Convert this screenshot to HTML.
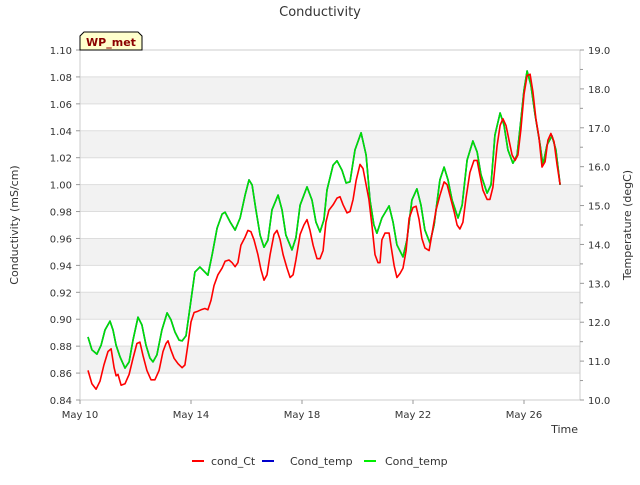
<!DOCTYPE html>
<html><head><meta charset="utf-8"><style>
body{margin:0;background:#fff;font-family:"Liberation Sans","DejaVu Sans",sans-serif}
svg text{font-family:"DejaVu Sans","Liberation Sans",sans-serif}
</style></head><body>
<svg id="chart" width="640" height="480" xmlns="http://www.w3.org/2000/svg">
<rect width="640" height="480" fill="#fff"/>
<text x="320" y="16" text-anchor="middle" font-size="13" fill="#333">Conductivity</text>
<g id="bands"></g>
<g id="grid"></g>
<rect x="80" y="50" width="500" height="350" fill="none" stroke="#ccc"/>
<g id="axes"></g>
<g id="series"></g>
<g>
<path d="M84,32 L138,32 L142,36 L142,50 L80,50 L80,36 Z" fill="#ffffcc" stroke="#000" stroke-width="1"/>
<text x="111" y="46" text-anchor="middle" font-size="11" font-weight="bold" fill="#8b0000">WP_met</text>
</g>
<text transform="translate(18,225) rotate(-90)" text-anchor="middle" font-size="11" fill="#333">Conductivity (mS/cm)</text>
<text transform="translate(631,225) rotate(-90)" text-anchor="middle" font-size="11" fill="#333">Temperature (degC)</text>
<text x="578" y="433" text-anchor="end" font-size="11" fill="#333">Time</text>
<g>
<line x1="192" y1="461" x2="204" y2="461" stroke="#f00" stroke-width="2"/>
<text x="211" y="465" font-size="11" fill="#333">cond_Ct</text>
<line x1="262" y1="461" x2="274" y2="461" stroke="#00c" stroke-width="2"/>
<text x="290" y="465" font-size="11" fill="#333">Cond_temp</text>
<line x1="364" y1="461" x2="376" y2="461" stroke="#0e0" stroke-width="2"/>
<text x="385" y="465" font-size="11" fill="#333">Cond_temp</text>
</g>
</svg>
<script>
const condDays=[0.29,0.43,0.58,0.72,0.86,1.01,1.12,1.23,1.30,1.37,1.48,1.62,1.77,1.91,2.05,2.16,2.27,2.41,2.56,2.70,2.85,2.99,3.10,3.17,3.28,3.39,3.53,3.68,3.78,3.89,4.00,4.11,4.25,4.36,4.50,4.61,4.72,4.83,4.97,5.12,5.23,5.37,5.48,5.59,5.69,5.80,5.95,6.05,6.16,6.27,6.41,6.52,6.63,6.74,6.85,6.99,7.10,7.21,7.32,7.46,7.57,7.68,7.78,7.93,8.07,8.18,8.29,8.40,8.54,8.65,8.76,8.86,8.97,9.12,9.26,9.37,9.48,9.62,9.73,9.84,9.95,10.09,10.20,10.31,10.41,10.52,10.63,10.74,10.81,10.88,10.99,11.14,11.21,11.32,11.42,11.53,11.64,11.75,11.86,12.00,12.11,12.22,12.32,12.43,12.58,12.68,12.83,12.97,13.12,13.23,13.33,13.48,13.59,13.69,13.80,13.91,14.05,14.20,14.31,14.41,14.52,14.67,14.77,14.88,15.03,15.14,15.24,15.35,15.46,15.57,15.68,15.78,15.89,16.00,16.11,16.22,16.32,16.43,16.54,16.65,16.76,16.86,16.97,17.08,17.19,17.30];
const condValues=[0.862,0.852,0.848,0.854,0.866,0.876,0.878,0.864,0.858,0.859,0.851,0.852,0.859,0.871,0.882,0.883,0.873,0.862,0.855,0.855,0.862,0.876,0.882,0.884,0.877,0.871,0.867,0.864,0.866,0.881,0.898,0.905,0.906,0.907,0.908,0.907,0.914,0.925,0.933,0.938,0.943,0.944,0.942,0.939,0.942,0.955,0.961,0.966,0.965,0.959,0.948,0.937,0.929,0.933,0.948,0.963,0.966,0.959,0.948,0.938,0.931,0.933,0.944,0.963,0.970,0.974,0.966,0.955,0.945,0.945,0.951,0.972,0.981,0.985,0.990,0.991,0.985,0.979,0.980,0.989,1.003,1.015,1.012,1.000,0.989,0.970,0.948,0.942,0.942,0.959,0.964,0.964,0.954,0.940,0.931,0.934,0.938,0.951,0.975,0.983,0.984,0.974,0.960,0.953,0.951,0.963,0.981,0.992,1.002,1.000,0.992,0.980,0.970,0.967,0.972,0.990,1.009,1.018,1.018,1.007,0.996,0.989,0.989,0.998,1.029,1.044,1.049,1.044,1.033,1.022,1.018,1.022,1.041,1.067,1.081,1.082,1.069,1.049,1.035,1.013,1.017,1.033,1.038,1.032,1.015,1.000];
const tempDays=[0.29,0.43,0.61,0.76,0.90,1.08,1.19,1.30,1.44,1.62,1.77,1.91,2.09,2.23,2.38,2.52,2.63,2.77,2.95,3.14,3.28,3.42,3.57,3.68,3.82,4.00,4.14,4.32,4.50,4.61,4.76,4.94,5.12,5.23,5.41,5.59,5.77,5.95,6.09,6.20,6.34,6.49,6.63,6.77,6.92,7.14,7.28,7.42,7.64,7.78,7.93,8.18,8.36,8.50,8.65,8.79,8.90,9.12,9.26,9.44,9.59,9.73,9.91,10.13,10.31,10.45,10.59,10.70,10.88,11.14,11.28,11.42,11.64,11.78,11.96,12.14,12.29,12.43,12.61,12.76,12.97,13.12,13.26,13.41,13.62,13.77,13.95,14.16,14.31,14.45,14.67,14.81,14.95,15.14,15.28,15.42,15.60,15.75,15.89,16.00,16.11,16.25,16.40,16.58,16.68,16.83,17.01,17.15,17.30];
const tempValues=[11.62,11.29,11.18,11.41,11.80,12.03,11.80,11.41,11.11,10.82,10.98,11.54,12.13,11.93,11.41,11.08,10.98,11.16,11.80,12.24,12.06,11.75,11.54,11.52,11.65,12.57,13.29,13.42,13.29,13.21,13.73,14.42,14.78,14.83,14.58,14.37,14.68,15.27,15.66,15.53,14.89,14.24,13.93,14.11,14.89,15.27,14.89,14.24,13.86,14.17,15.01,15.48,15.14,14.58,14.32,14.63,15.40,16.04,16.15,15.91,15.58,15.61,16.43,16.87,16.30,15.14,14.50,14.29,14.68,14.99,14.58,13.99,13.68,14.11,15.14,15.43,15.01,14.37,14.04,14.50,15.66,15.99,15.66,15.14,14.68,15.01,16.17,16.66,16.38,15.79,15.32,15.53,16.81,17.38,17.07,16.43,16.09,16.30,17.20,17.97,18.46,18.10,17.33,16.56,16.04,16.56,16.79,16.43,15.53];
const leftTicks=[0.84,0.86,0.88,0.90,0.92,0.94,0.96,0.98,1.00,1.02,1.04,1.06,1.08,1.10];
const rightTicks=[10,11,12,13,14,15,16,17,18,19];
const xTickDays=[0,4,8,12,16];
const xTickLabels=["May 10","May 14","May 18","May 22","May 26"];

const X0=80,X1=580,Y0=400,Y1=50,DAYS=500/27.75;
const xs=d=>X0+d/DAYS*(X1-X0);
const yL=v=>Y0-(v-0.84)/(1.10-0.84)*(Y0-Y1);
const yR=v=>Y0-(v-10)/(19-10)*(Y0-Y1);
const NS="http://www.w3.org/2000/svg";
function mk(tag,attrs,parent){const e=document.createElementNS(NS,tag);for(const k in attrs)e.setAttribute(k,attrs[k]);parent.appendChild(e);return e;}
const bands=document.getElementById('bands'),grid=document.getElementById('grid'),axes=document.getElementById('axes'),series=document.getElementById('series');
for(let i=0;i<leftTicks.length-1;i++){
  if(i%2===1){const r=mk('rect',{x:X0,y:yL(leftTicks[i+1]),width:X1-X0,height:yL(leftTicks[i])-yL(leftTicks[i+1]),fill:'#f2f2f2'},bands);
  
  }
}
leftTicks.forEach(v=>{
  const y=yL(v);
  const g=mk('line',{x1:X0,x2:X1,y1:y,y2:y,stroke:'#ddd','stroke-width':1},grid);
  
  
  mk('line',{x1:X0-4,x2:X0,y1:y,y2:y,stroke:'#999'},axes);
  const t=mk('text',{x:X0-8,y:y+4,'text-anchor':'end','font-size':10,fill:'#333'},axes);
  t.textContent=v.toFixed(2);
  
  
});
rightTicks.forEach((v,i)=>{
  const y=yR(v);
  mk('line',{x1:X1,x2:X1+4,y1:y,y2:y,stroke:'#999'},axes);
  if(i<rightTicks.length-1){const ym=yR(v+0.5);mk('line',{x1:X1,x2:X1+3,y1:ym,y2:ym,stroke:'#999'},axes);}
  const t=mk('text',{x:X1+8,y:y+4,'font-size':10,fill:'#333'},axes);
  t.textContent=v.toFixed(1);
  
  
});
xTickDays.forEach((d,i)=>{
  const x=xs(d);
  mk('line',{x1:x,x2:x,y1:Y0,y2:Y0+4,stroke:'#999'},axes);
  const t=mk('text',{x:x,y:Y0+18,'text-anchor':'middle','font-size':10,fill:'#333'},axes);
  t.textContent=xTickLabels[i];
  
  
});
function line(days,vals,yf,color,name){
  const p=mk('polyline',{points:days.map((d,i)=>xs(d).toFixed(1)+','+yf(vals[i]).toFixed(1)).join(' '),fill:'none',stroke:color,'stroke-width':1.6,'stroke-linejoin':'round'},series);
  
  
}
line(tempDays,tempValues,yR,'#00c','cond-temp-blue-line');
line(tempDays,tempValues,yR,'#00e000','cond-temp-line');
line(condDays,condValues,yL,'#f00','cond-ct-line');
</script>
</body></html>
